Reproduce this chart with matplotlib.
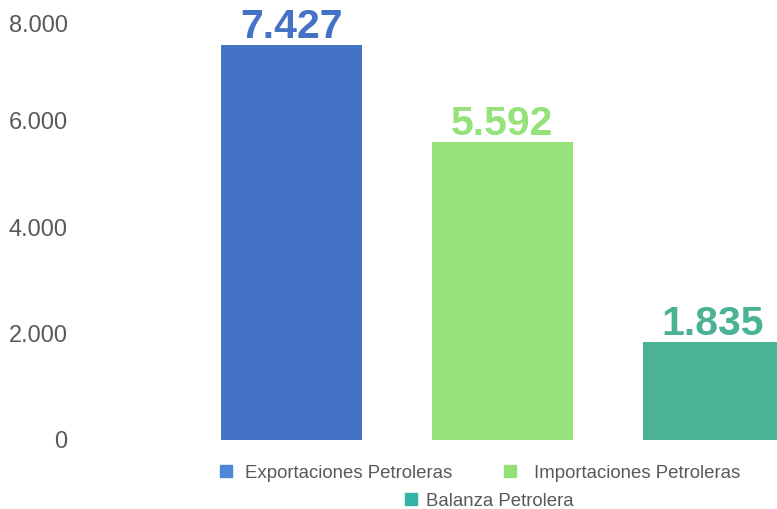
import matplotlib
matplotlib.use("Agg")
import matplotlib.pyplot as plt
import matplotlib.transforms as mtransforms
from matplotlib.lines import Line2D

categories = ["Exportaciones Petroleras", "Importaciones Petroleras", "Balanza Petrolera"]
values = [7427, 5592, 1835]
bar_colors = ["#4472C4", "#95E27B", "#4AB396"]
legend_colors = ["#4F86D6", "#93E07A", "#34B3A4"]
yticks = [0, 2000, 4000, 6000, 8000]

def fmt(v):
    return f"{v:,}".replace(",", ".")

plt.rcParams['font.family'] = ['Liberation Sans', 'DejaVu Sans']
W, H = 777, 509
fig = plt.figure(figsize=(W / 100, H / 100), dpi=100)
ax = fig.add_axes([80 / W, (H - 440) / H, 1 - 80 / W, (440 - 14) / H])

x = list(range(len(categories)))
ax.bar(x, values, width=141 / 211, color=bar_colors, zorder=2)
for xi, v, c in zip(x, values, bar_colors):
    ax.annotate(fmt(v), (xi, v), xytext=(0, 5), textcoords="offset points",
                ha="center", va="baseline", fontsize=29.5, fontweight="bold",
                color=c, annotation_clip=False)

ax.set_xlim(-1.0, 2.303)
ax.set_ylim(0, 8000)
ax.set_yticks(yticks)
ax.set_yticklabels([fmt(t) for t in yticks], fontsize=17, color="#595959")
ax.tick_params(axis="y", length=0, pad=9)
ax.set_xticks([])
for s in ax.spines.values():
    s.set_visible(False)

# the top tick label sits a little lower in the reference
top_lbl = ax.get_yticklabels()[-1]
top_lbl.set_transform(top_lbl.get_transform() +
                      mtransforms.ScaledTranslation(0, -10 / 100, fig.dpi_scale_trans))

# legend items placed individually
positions = [(219, 473), (503, 473), (404, 501)]
pads = [0.62, 0.84, 0.38]
for cat, col, (px, py), pd in zip(categories, legend_colors, positions, pads):
    h = Line2D([], [], marker="s", linestyle="none", markersize=8,
               markerfacecolor=col, markeredgecolor=col)
    fig.legend(handles=[h], labels=[cat], loc="center left",
               bbox_to_anchor=(px / W, 1 - py / H), frameon=False,
               fontsize=13.4, labelcolor="#595959", handlelength=0.8,
               handletextpad=pd, borderpad=0, borderaxespad=0)

fig.savefig("out.png", dpi=100)
